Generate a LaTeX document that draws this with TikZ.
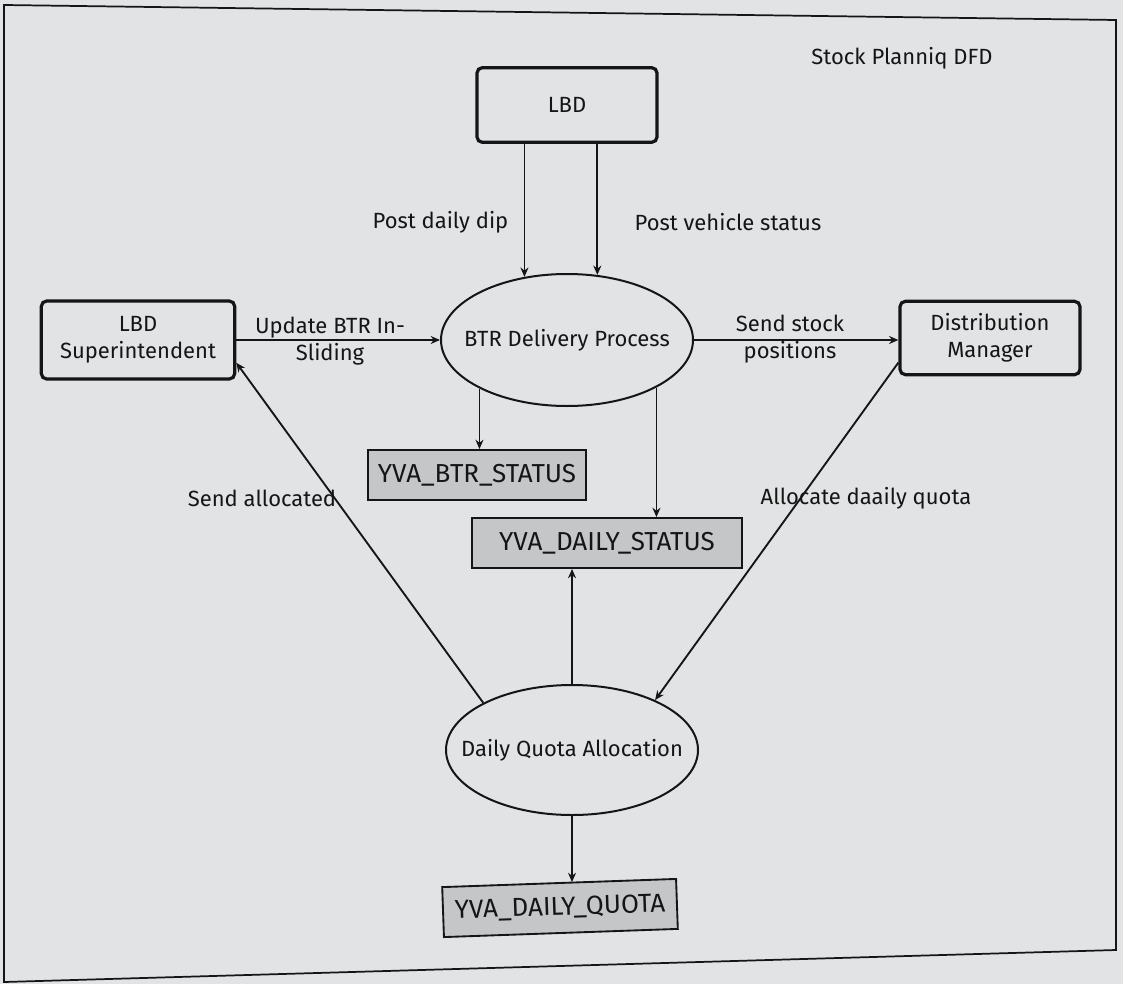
\documentclass[tikz,border=0pt]{standalone}
\usepackage{fontspec}
\setmainfont{Fira Sans}
\usetikzlibrary{shapes.geometric,arrows.meta,calc}
\definecolor{paper}{HTML}{E1E3E4}
\definecolor{ink}{HTML}{151515}
\definecolor{storefill}{HTML}{C4C6C7}
\begin{document}
\begin{tikzpicture}[x=0.75pt,y=-0.75pt,
  every node/.style={font=\fontsize{16.5}{20}\selectfont, text=ink},
  entity/.style={draw=ink, line width=2.4pt, rounded corners=4pt, align=center, inner sep=0pt},
  proc/.style={draw=ink, ellipse, line width=1.5pt, minimum width=189pt, minimum height=99pt, inner sep=0pt},
  store/.style={draw=ink, fill=storefill, line width=1.4pt, minimum height=37.5pt, inner sep=0pt, font=\fontsize{19.5}{22}\selectfont},
  flow/.style={draw=ink, line width=1.4pt, -{Stealth[length=7pt,width=6pt]}},
  lbl/.style={align=center}]
\useasboundingbox (0,0) rectangle (1123,984);
\fill[paper] (0,0) rectangle (1123,984);
\draw[ink, line width=1.3pt] (4,5) -- (1116,20) -- (1116,950) -- (4,982) -- cycle;

\node[entity, minimum width=135pt, minimum height=56pt] (lbd) at (567,105) {LBD};
\node[entity, minimum width=145pt, minimum height=58.5pt] (lsup) at (138,340) {LBD\\Superintendent};
\node[entity, minimum width=135pt, minimum height=55pt] (dm) at (990,338) {Distribution\\Manager};
\node[proc] (btr) at (567,340) {};
\node (btrtext) at (btr.center) {BTR Delivery Process};
\node[store, minimum width=163.5pt] (bst) at (477,475) {YVA\_BTR\_STATUS};
\node[store, minimum width=203pt] (dst) at (607,543) {YVA\_DAILY\_STATUS};
\node[proc, minimum height=97.5pt] (dqa) at (572,750) {};
\node (dqatext) at (dqa.center) {Daily Quota Allocation};
\node[store, minimum width=175.5pt, rotate=2] (dq) at (560,908) {YVA\_DAILY\_QUOTA};

\draw[flow] (lbd.south -| btr.124) -- (btr.124);
\draw[flow] (lbd.south -| btr.65) -- (btr.65);
\draw[flow] (lsup.east) -- (btr.west);
\draw[flow] (btr.east) -- (btr.east -| dm.west);
\draw[flow] (btr.209.3) -- (btr.209.3 |- bst.north);
\draw[flow] (btr.-28.2) -- (btr.-28.2 |- dst.north);
\draw[flow] (dqa.north) -- (dqa.north |- dst.south);
\draw[flow] (dqa.south) -- (dqa.south |- dq.north);
\draw[flow] (dqa.152) -- (lsup.-13);
\draw[flow] (dm.195.5) -- (dqa.31);

\node[anchor=east] (t1) at (513,222) {Post daily dip};
\node[anchor=west] (t2) at (630,222) {Post vehicle status};
\node[lbl] (t3) at (330,341) {Update BTR In-\\Sliding};
\node[lbl] (t4) at (790,339) {Send stock\\positions};
\node (t5) at (262,498) {Send allocated};
\node (t6) at (866,498) {Allocate daaily quota};
\node (t7) at (902,58) {Stock Planniq DFD};
\end{tikzpicture}
\end{document}
